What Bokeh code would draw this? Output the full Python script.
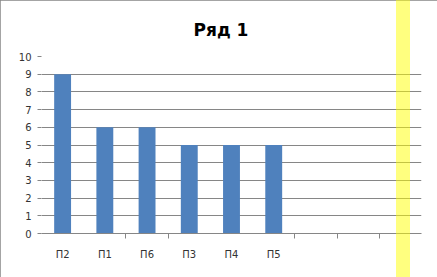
from bokeh.plotting import figure
from bokeh.models import FixedTicker, Range1d, ColumnDataSource, InlineStyleSheet
from bokeh.embed import file_html
from bokeh.resources import INLINE

categories = ["П2", "П1", "П6", "П3", "П4", "П5", "", "", ""]
values = [9, 6, 6, 5, 5, 5]
y_ticks = [0, 1, 2, 3, 4, 5, 6, 7, 8, 9, 10]
boundary_ticks = [2, 3, 6, 7, 8]
title_text = "Ряд 1"

GRAY = "#868686"
BLUE = "#4F81BD"

p = figure(width=437, height=277, output_backend="svg", toolbar_location=None,
           x_range=Range1d(0, len(categories)), y_range=Range1d(0, 10),
           min_border_left=41, min_border_right=16, min_border_top=56, min_border_bottom=44)

p.title.text = title_text
p.title.text_font = "DejaVu Sans"
p.title.text_font_size = "17px"
p.title.text_font_style = "bold"
p.title.text_color = "#000000"
p.title.align = "left"
p.title.offset = 152
p.title.standoff = 34

xs = [i + 0.5 for i in range(len(values))]
src = ColumnDataSource(dict(x=xs, top=values))

p.outline_line_color = None
p.xgrid.grid_line_color = None
p.ygrid.grid_line_color = GRAY
p.ygrid.ticker = FixedTicker(ticks=y_ticks)

p.vbar(x="x", top="top", width=0.4, bottom=0, source=src, fill_color=BLUE, line_color=None)

yax = p.yaxis[0]
yax.ticker = FixedTicker(ticks=y_ticks)
yax.axis_line_color = None
yax.major_tick_out = 4
yax.major_tick_in = 0
yax.major_tick_line_color = GRAY
yax.minor_tick_line_color = None
yax.major_label_text_font = "DejaVu Sans"
yax.major_label_text_font_size = "10px"
yax.major_label_text_color = "#333333"
yax.major_label_standoff = 6

xax = p.xaxis[0]
xax.ticker = FixedTicker(ticks=[i + 0.5 for i in range(len(categories))], minor_ticks=boundary_ticks)
xax.major_label_overrides = {i + 0.5: c for i, c in enumerate(categories)}
xax.axis_line_color = GRAY
xax.major_tick_out = 0
xax.major_tick_in = 0
xax.major_tick_line_color = None
xax.minor_tick_out = 5
xax.minor_tick_in = 0
xax.minor_tick_line_color = GRAY
xax.major_label_text_font = "DejaVu Sans"
xax.major_label_text_font_size = "10px"
xax.major_label_text_color = "#333333"
xax.major_label_standoff = 10

css = InlineStyleSheet(css="""
:host::before {
  content: ""; position: absolute; left: 0; top: 0; width: 437px; height: 277px;
  box-sizing: border-box; border: 1px solid #868686; pointer-events: none;
}
:host::after {
  content: ""; position: absolute; left: 396px; top: 0; width: 14px; height: 277px;
  background: rgba(255, 255, 0, 0.5); pointer-events: none;
}
""")
p.stylesheets = [css]

open("out.html", "w").write(file_html(p, INLINE))
